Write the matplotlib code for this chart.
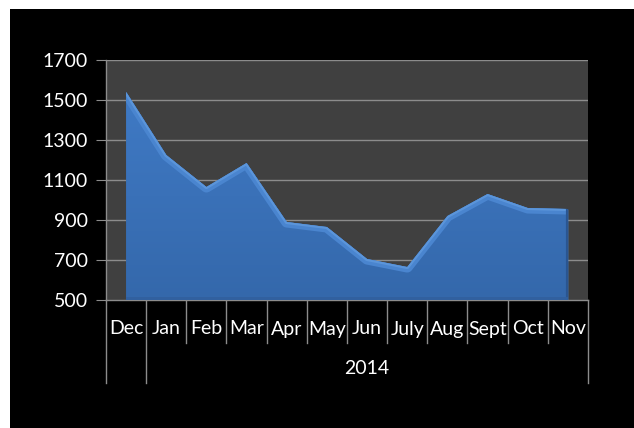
import matplotlib

matplotlib.use("Agg")
import matplotlib.pyplot as plt
import numpy as np
from matplotlib.colors import LinearSegmentedColormap
from matplotlib.patches import Rectangle

months = ["Dec", "Jan", "Feb", "Mar", "Apr", "May", "Jun", "July", "Aug", "Sept", "Oct", "Nov"]
values = [1540, 1225, 1065, 1185, 890, 865, 705, 665, 920, 1030, 960, 955]
year_label = "2014"
year_start = 1  # index of first month in the 2014 group
y_ticks = [500, 700, 900, 1100, 1300, 1500, 1700]

W, H = 634, 428
fig = plt.figure(figsize=(W / 100, H / 100), dpi=100, facecolor="white")
fig.patches.append(Rectangle((10 / W, 0), 1 - 10 / W, 1 - 9 / H, transform=fig.transFigure,
                             facecolor="black", edgecolor="none", zorder=-10))

left, right, top, bottom = 106, 588, 60, 300
ax = fig.add_axes([left / W, (H - bottom) / H, (right - left) / W, (bottom - top) / H])
ax.set_facecolor("#404040")

x = np.arange(len(months))
ax.set_xlim(-0.5, len(months) - 0.5)
ax.set_ylim(y_ticks[0], y_ticks[-1])

for yv in y_ticks[1:]:
    ax.axhline(yv, color="#8c8c8c", lw=1.0, zorder=1)

# area with gradient and soft bevel along the top
poly = ax.fill_between(x, y_ticks[0], values, color="#3b73bb", lw=0, zorder=2)
clip_path = poly.get_paths()[0]
grad = np.linspace(0, 1, 256).reshape(-1, 1)
cmap = LinearSegmentedColormap.from_list("g", ["#3468ab", "#3a71b8", "#3f7ac5"])
im = ax.imshow(grad, cmap=cmap, origin="lower", aspect="auto",
               extent=(x[0], x[-1], y_ticks[0], max(values)), zorder=3)
im.set_clip_path(clip_path, transform=ax.transData)
hl, = ax.plot(x, values, color="#4a85cf", lw=8, zorder=4)
hl.set_clip_path(clip_path, transform=ax.transData)
hl2, = ax.plot(x, values, color="#5b95da", lw=3, zorder=5)
hl2.set_clip_path(clip_path, transform=ax.transData)
edge, = ax.plot([x[-1], x[-1]], [y_ticks[0], values[-1]], color="#2a5590", lw=3, zorder=5)
edge.set_clip_path(clip_path, transform=ax.transData)
bot, = ax.plot([x[0], x[-1]], [y_ticks[0], y_ticks[0]], color="#31609f", lw=5, zorder=5)
bot.set_clip_path(clip_path, transform=ax.transData)

for s in ["top", "right"]:
    ax.spines[s].set_visible(False)
for s in ["left", "bottom"]:
    ax.spines[s].set_color("#8c8c8c")
    ax.spines[s].set_linewidth(1.0)

font = "Lato"
fs = 14
ax.set_yticks(y_ticks)
ax.set_yticklabels([str(v) for v in y_ticks], fontsize=fs, color="white", family=font)
ax.tick_params(axis="y", length=7, color="#8c8c8c", pad=6)
ax.set_xticks([])

# multi-level category axis
ah = bottom - top
row1 = -(343 - bottom) / ah
row2 = -(383 - bottom) / ah
trans = ax.get_xaxis_transform()
for b in np.arange(len(months) + 1) - 0.5:
    y_end = row2 if b in (-0.5, year_start - 0.5, len(months) - 0.5) else row1
    ax.plot([b, b], [0, y_end], color="#8c8c8c", lw=1.0, transform=trans, clip_on=False)
for i, m in enumerate(months):
    ax.text(i, -(329 - bottom) / ah, m, transform=trans, ha="center", va="center",
            fontsize=fs, color="white", family=font)
ax.text((year_start - 0.5 + len(months) - 0.5) / 2, -(369 - bottom) / ah, year_label,
        transform=trans, ha="center", va="center", fontsize=fs, color="white", family=font)

fig.savefig("out.png", dpi=100, facecolor=fig.get_facecolor())
